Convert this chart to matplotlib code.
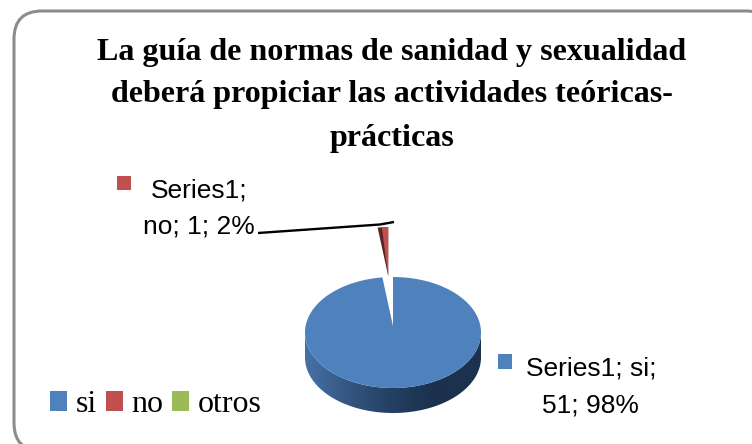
import matplotlib
matplotlib.use("Agg")
import numpy as np
import matplotlib.pyplot as plt
from matplotlib.patches import FancyBboxPatch, Patch, Polygon, Wedge
from matplotlib.transforms import Affine2D

categories = ["si", "no", "otros"]
values = [51, 1, 0]
series_name = "Series1"
title_lines = ["La guía de normas de sanidad y sexualidad",
               "deberá propiciar las actividades teóricas-",
               "prácticas"]
colors = ["#4F81BD", "#C0504D", "#9BBB59"]
explode = [0, 0.9, 0]

CX, CY, RX, RY, APEX, DEPTH = 393, 332.5, 88, 55.5, 6.5, 25
SANS = "Liberation Sans"
SERIF = "Liberation Serif"

fig = plt.figure(figsize=(7.52, 4.44), dpi=100, facecolor="white")
ax = fig.add_axes([0, 0, 1, 1])
wedges, _ = ax.pie(values, explode=explode, colors=colors, startangle=90,
                   counterclock=False, radius=1, center=(0, 0))
ax.set_aspect("auto")
ax.set_xlim(0, 752)
ax.set_ylim(444, 0)
ax.axis("off")


def project(w, path=None):
    """Map a unit-pie wedge onto the tilted pie's pixel frame."""
    p = path if path is not None else w.get_path()
    poly = p.transformed(Affine2D().scale(200)).to_polygons(closed_only=False)[0] / 200
    cx, cy = w.center
    lx, ly = poly[:, 0] - cx, poly[:, 1] - cy
    rho = np.minimum(np.hypot(lx, ly), 1)
    return np.column_stack([CX + RX * poly[:, 0],
                            CY - RY * poly[:, 1] - APEX * (1 - rho)])


# frame
ax.add_patch(FancyBboxPatch((14, 11), 760, 440, boxstyle="round,pad=0,rounding_size=28",
                            fc="white", ec="#8C8C8C", lw=2.2, zorder=0))

# pie side with a horizontal gradient
t = np.radians(np.linspace(180, 360, 181))
top_x, top_y = CX + RX * np.cos(t), CY - RY * np.sin(t)
side = np.column_stack([np.r_[top_x, top_x[::-1]], np.r_[top_y, top_y[::-1] + DEPTH]])
side_patch = Polygon(side, closed=True, fc="none", ec="none", transform=ax.transData)
ax.add_patch(side_patch)
grad_cmap = matplotlib.colors.LinearSegmentedColormap.from_list(
    "side", ["#4572A6", "#33567F", "#233F62", "#1B304C", "#1C3450"])
img = ax.imshow(np.linspace(0, 1, 256)[None, :], cmap=grad_cmap, aspect="auto",
                extent=(CX - RX, CX + RX, CY + RY + DEPTH, CY - RY), zorder=2)
img.set_clip_path(side_patch)
ax.set_xlim(0, 752)
ax.set_ylim(444, 0)

# leader line for the small slice
ax.plot([258, 380, 394], [233, 224.5, 222], color="black", lw=1.7, zorder=3,
        solid_capstyle="butt")

# slices
for w, c, v in zip(wedges, colors, values):
    w.set_visible(False)
    if v == 0:
        continue
    if w.center == (0, 0):
        ax.add_patch(Polygon(project(w), closed=True, fc=c, ec="none", zorder=3))
    else:
        ax.add_patch(Polygon(project(w), closed=True, fc="#5A2725", ec="none", zorder=4))
        split = w.theta1 + 0.6 * (w.theta2 - w.theta1)
        face = Wedge(w.center, w.r, w.theta1, split)
        ax.add_patch(Polygon(project(w, face.get_path()), closed=True, fc=c, ec="none", zorder=5))

# title
for line, y in zip(title_lines, [60, 102, 146]):
    ax.text(392, y, line, family=SERIF, weight="bold", fontsize=23.1,
            ha="center", va="baseline", color="black")

# data labels
total = sum(values)
pct = [round(100 * v / total) for v in values]
label_font = dict(family=SANS, fontsize=19, ha="center", va="baseline", color="black")
ax.text(199, 197, f"{series_name};", **label_font)
ax.text(199, 233, f"{categories[1]}; {values[1]}; {pct[1]}%", **label_font)
ax.text(591, 375, f"{series_name}; {categories[0]};", **label_font)
ax.text(590, 412, f"{values[0]}; {pct[0]}%", **label_font)
ax.add_patch(plt.Rectangle((117, 176), 14, 14, fc=colors[1], ec="none"))
ax.add_patch(plt.Rectangle((498, 354), 14, 15, fc=colors[0], ec="none"))

# legend
handles = [Patch(fc=c, ec="none") for c in colors]
ax.legend(handles, categories, loc="lower left", bbox_to_anchor=(50 / 752, (444 - 419) / 444),
          ncols=3, frameon=False, borderpad=0, borderaxespad=0, handlelength=0.53, handleheight=0.58,
          handletextpad=0.27, columnspacing=0.28, labelspacing=0,
          prop={"family": SERIF, "size": 23})

fig.savefig("out.png", dpi=100, facecolor="white")
